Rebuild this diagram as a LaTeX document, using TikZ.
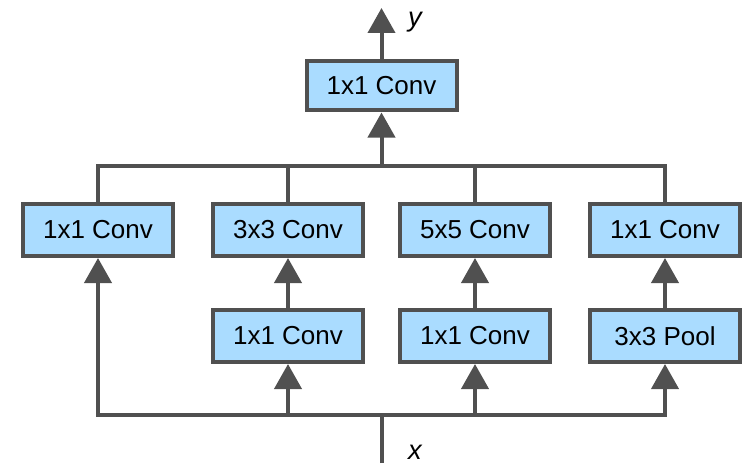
\documentclass[tikz,border=0pt]{standalone}
\usepackage{fontspec}
\setmainfont{Liberation Sans}
\usetikzlibrary{arrows.meta,positioning}

\definecolor{boxblue}{RGB}{170,220,255}
\definecolor{wiregray}{RGB}{80,80,80}

\begin{document}
\begin{tikzpicture}[
  box/.style={draw=wiregray, fill=boxblue, line width=0.08cm, minimum width=3.0cm, minimum height=1.04cm, inner sep=0pt, font=\fontsize{14.8}{17}\selectfont},
  wire/.style={draw=wiregray, line width=0.08cm},
  arrow/.style={wire, -{Triangle[length=0.5cm, width=0.54cm]}},
  both/.style={wire, {Triangle[length=0.5cm, width=0.54cm]}-{Triangle[length=0.5cm, width=0.54cm]}},
  var/.style={font=\fontsize{15.5}{17}\selectfont\itshape},
]
\useasboundingbox (0,0) rectangle (14.96,9.26);

% ====== Output convolution ======
\node[box, minimum height=0.98cm] (top) at (7.63,7.54) {1x1 Conv};
\coordinate (yout) at (7.63,9.10);
\node[var] (ylab) at (8.30,8.82) {y};

% ====== Four parallel paths ======
\node[box] (c1)   at (1.96,4.66)  {1x1 Conv};
\node[box] (c3)   at (5.76,4.66)  {3x3 Conv};
\node[box] (c5)   at (9.50,4.66)  {5x5 Conv};
\node[box] (c1b)  at (13.30,4.66) {1x1 Conv};
\node[box] (r3)   at (5.76,2.54)  {1x1 Conv};
\node[box] (r5)   at (9.50,2.54)  {1x1 Conv};
\node[box] (pool) at (13.30,2.54) {3x3 Pool};

% ====== Input ======
\coordinate (split) at (7.63,5.94);
\coordinate (join) at (7.63,0.96);
\coordinate (in) at (7.63,0);
\node[var] (xlab) at (8.30,0.22) {x};

% concatenation of the paths
\draw[wire] (c1.north) |- (c1b.north |- split) -- (c1b.north);
\draw[wire] (c3.north) -- (c3.north |- split);
\draw[wire] (c5.north) -- (c5.north |- split);
\draw[arrow] (split) -- (top.south);
\draw[arrow] (top.north) -- (yout);

% input fan-out
\draw[wire] (in) -- (join);
\draw[both] (c1.south) |- (pool.south |- join) -- (pool.south);
\draw[arrow] (r3.south |- join) -- (r3.south);
\draw[arrow] (r5.south |- join) -- (r5.south);
\draw[arrow] (r3.north) -- (c3.south);
\draw[arrow] (r5.north) -- (c5.south);
\draw[arrow] (pool.north) -- (c1b.south);

\end{tikzpicture}
\end{document}
